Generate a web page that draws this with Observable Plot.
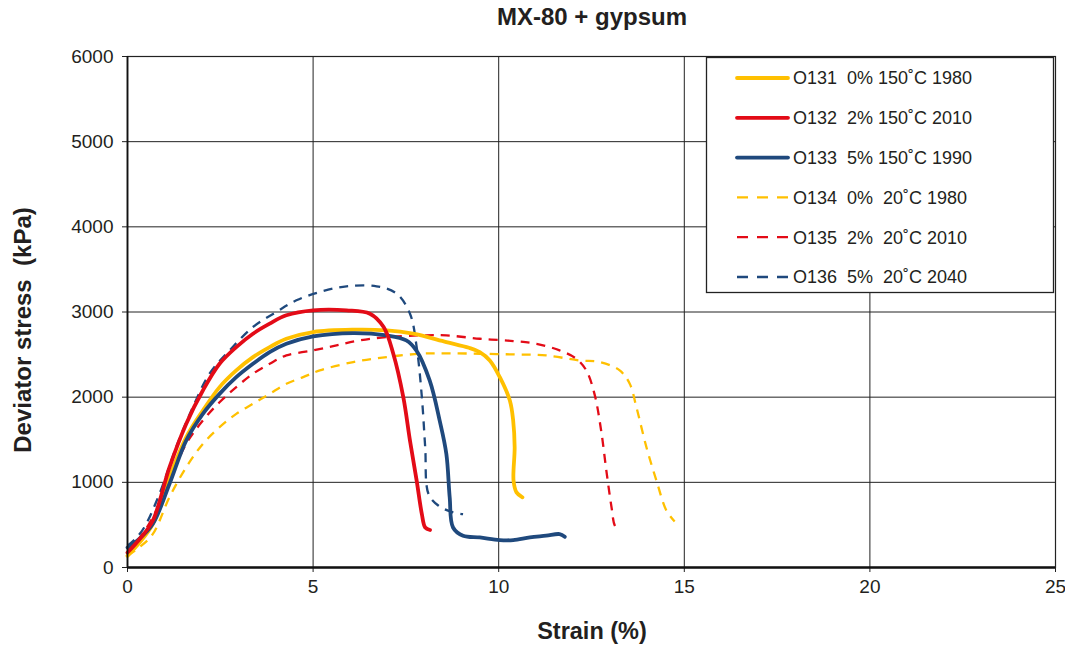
<!DOCTYPE html>
<html>
<head>
<meta charset="utf-8">
<script src="https://cdn.jsdelivr.net/npm/d3@7"></script>
<script src="https://cdn.jsdelivr.net/npm/@observablehq/plot@0.6"></script>
<style>
  html, body { margin: 0; padding: 0; background: #fff; }
  #chart { width: 1065px; height: 646px; }
  svg text { font-family: "Liberation Sans", Arial, sans-serif; }
</style>
</head>
<body>
<div id="chart"></div>
<script>
// ---- Data ----
const chartTitle = "MX-80 + gypsum";
const xTitle = "Strain (%)";
const yTitle = "Deviator stress  (kPa)";
const xTicks = [0, 5, 10, 15, 20, 25];
const yTicks = [0, 1000, 2000, 3000, 4000, 5000, 6000];

const seriesNames = [
  "O131  0% 150˚C 1980",
  "O132  2% 150˚C 2010",
  "O133  5% 150˚C 1990",
  "O134  0%  20˚C 1980",
  "O135  2%  20˚C 2010",
  "O136  5%  20˚C 2040"
];
const seriesColors = ["#FFC000", "#E30B17", "#1F497D", "#FFC000", "#E30B17", "#1F497D"];
const seriesDashed = [false, false, false, true, true, true];

const o131Strain = [0, 0.3, 0.68, 1.13, 1.58, 2.03, 2.48, 2.93, 3.38, 3.83, 4.28, 5.0, 6.08, 6.98, 7.69, 8.59, 9.2, 9.49, 9.76, 10.03, 10.3, 10.39, 10.43, 10.4, 10.48, 10.64];
const o131Stress = [137, 280, 510, 1059, 1529, 1843, 2118, 2314, 2470, 2588, 2686, 2765, 2792, 2784, 2745, 2647, 2580, 2529, 2431, 2235, 1961, 1725, 1412, 1020, 882, 824];

const o132Strain = [0, 0.3, 0.68, 1.13, 1.58, 2.03, 2.48, 2.93, 3.38, 3.83, 4.28, 5.0, 5.9, 6.53, 6.9, 7.16, 7.43, 7.61, 7.79, 7.93, 8.02, 8.15];
const o132Stress = [176, 320, 549, 1176, 1686, 2078, 2392, 2588, 2745, 2863, 2961, 3020, 3020, 2980, 2824, 2510, 2000, 1490, 1020, 627, 470, 440];

const o133Strain = [0, 0.3, 0.68, 1.13, 1.58, 2.03, 2.48, 2.93, 3.38, 3.83, 4.28, 5.0, 6.08, 6.98, 7.51, 7.78, 8.14, 8.41, 8.59, 8.68, 8.77, 9.04, 9.49, 10.03, 10.39, 10.84, 11.28, 11.64, 11.78];
const o133Stress = [235, 330, 510, 980, 1490, 1804, 2039, 2235, 2392, 2529, 2627, 2714, 2753, 2725, 2667, 2549, 2196, 1725, 1333, 824, 470, 373, 353, 322, 322, 353, 373, 392, 360];

const o134Strain = [0, 0.3, 0.68, 1.13, 1.58, 2.03, 2.48, 2.93, 3.38, 3.83, 4.28, 4.73, 5.18, 6.08, 6.98, 7.88, 8.6, 9.49, 10.39, 11.28, 12.18, 12.72, 13.26, 13.53, 13.71, 13.98, 14.25, 14.52, 14.74];
const o134Stress = [137, 230, 392, 824, 1176, 1451, 1647, 1804, 1922, 2039, 2157, 2235, 2314, 2412, 2471, 2510, 2515, 2510, 2502, 2490, 2431, 2412, 2314, 2157, 1882, 1412, 1020, 667, 541];

const o135Strain = [0, 0.3, 0.68, 1.13, 1.58, 2.03, 2.48, 2.93, 3.38, 3.83, 4.28, 5.0, 5.63, 6.26, 6.98, 7.88, 8.59, 9.49, 10.39, 11.02, 11.64, 12.09, 12.36, 12.58, 12.76, 12.9, 13.04, 13.13, 13.24];
const o135Stress = [176, 330, 588, 1020, 1451, 1725, 1941, 2118, 2275, 2392, 2490, 2549, 2608, 2667, 2706, 2725, 2725, 2686, 2659, 2627, 2549, 2451, 2314, 2039, 1608, 1137, 706, 490, 439];

const o136Strain = [0, 0.2, 0.45, 0.86, 1.31, 1.76, 2.21, 2.75, 3.38, 4.01, 4.55, 5.18, 5.9, 6.71, 7.25, 7.61, 7.79, 7.93, 8.02, 8.11, 8.38, 8.77, 9.04];
const o136Stress = [255, 330, 470, 863, 1412, 1882, 2275, 2549, 2824, 3000, 3137, 3235, 3302, 3302, 3216, 2980, 2588, 2000, 1412, 863, 725, 647, 627];

const seriesStrain = [o131Strain, o132Strain, o133Strain, o134Strain, o135Strain, o136Strain];
const seriesStress = [o131Stress, o132Stress, o133Stress, o134Stress, o135Stress, o136Stress];

// ---- Build table ----
const table = seriesNames.flatMap((name, i) =>
  seriesStrain[i].map((x, j) => ({series: name, idx: i, strain: x, stress: seriesStress[i][j]}))
);

const W = 1065, H = 646;
const mL = 127, mR = 10, mT = 56, mB = 79;
const fontFam = '"Liberation Sans", Arial, sans-serif';
const ink = "#231F20";

// draw order: dashed first, then solids
const drawOrder = [3, 4, 5, 0, 2, 1];
const lineMarks = drawOrder.map(i => Plot.line(table.filter(d => d.idx === i), {
  x: "strain", y: "stress",
  stroke: seriesColors[i],
  strokeWidth: seriesDashed[i] ? 2.3 : 3.8,
  strokeDasharray: seriesDashed[i] ? "9,7" : null,
  curve: "catmull-rom",
  strokeLinejoin: "round",
  strokeLinecap: seriesDashed[i] ? "butt" : "round"
}));

const plot = Plot.plot({
  width: W, height: H,
  marginLeft: mL, marginRight: mR, marginTop: mT, marginBottom: mB,
  style: {fontFamily: fontFam, fontSize: "19px", color: ink, background: "#fff"},
  x: {domain: [0, 25], ticks: xTicks, label: null},
  y: {domain: [0, 6000], ticks: yTicks, label: null},
  marks: [
    Plot.gridX(xTicks, {stroke: "#222", strokeOpacity: 1, strokeWidth: 1}),
    Plot.gridY(yTicks, {stroke: "#222", strokeOpacity: 1, strokeWidth: 1}),
    Plot.frame({stroke: "#222", strokeWidth: 1.2}),
    Plot.axisX(xTicks, {tickSize: 5, tickPadding: 7, fontSize: 19, tickFormat: d => String(d), stroke: "#222", fill: ink}),
    Plot.axisY(yTicks, {tickSize: 5, tickPadding: 9, fontSize: 19, tickFormat: d => String(d), stroke: "#222", fill: ink}),
    ...lineMarks,
    Plot.ruleY([0], {stroke: "#111", strokeWidth: 2.5}),
    Plot.ruleX([0], {stroke: "#111", strokeWidth: 1.8})
  ]
});

document.getElementById("chart").appendChild(plot);

// ---- Titles and legend ----
const svg = d3.select(plot);

svg.append("text")
  .attr("x", 592).attr("y", 25)
  .attr("text-anchor", "middle")
  .style("font-family", fontFam).style("font-weight", "bold").style("font-size", "24px")
  .attr("fill", ink)
  .text(chartTitle);

svg.append("text")
  .attr("x", 592).attr("y", 639)
  .attr("text-anchor", "middle")
  .style("font-family", fontFam).style("font-weight", "bold").style("font-size", "23.5px")
  .attr("fill", ink)
  .text(xTitle);

svg.append("text")
  .attr("transform", "translate(31,330) rotate(-90)")
  .attr("text-anchor", "middle")
  .style("font-family", fontFam).style("font-weight", "bold").style("font-size", "24px")
  .style("white-space", "pre")
  .attr("fill", ink)
  .text(yTitle);

const lg = svg.append("g").attr("class", "legend");
lg.append("rect")
  .attr("x", 706.5).attr("y", 57.5).attr("width", 347).attr("height", 235)
  .attr("fill", "#fff").attr("stroke", "#222").attr("stroke-width", 1.3);

seriesNames.forEach((name, i) => {
  const yy = 78 + i * 39.8;
  lg.append("line")
    .attr("x1", 737).attr("x2", 788).attr("y1", yy).attr("y2", yy)
    .attr("stroke", seriesColors[i])
    .attr("stroke-width", seriesDashed[i] ? 2.3 : 3.8)
    .attr("stroke-dasharray", seriesDashed[i] ? "11,9" : null)
    .attr("stroke-linecap", seriesDashed[i] ? "butt" : "round");
  lg.append("text")
    .attr("x", 793).attr("y", yy).attr("dy", "0.35em")
    .attr("text-anchor", "start")
    .style("font-family", fontFam).style("font-size", "18px")
    .style("white-space", "pre")
    .attr("fill", ink)
    .text(name);
});
</script>
</body>
</html>
